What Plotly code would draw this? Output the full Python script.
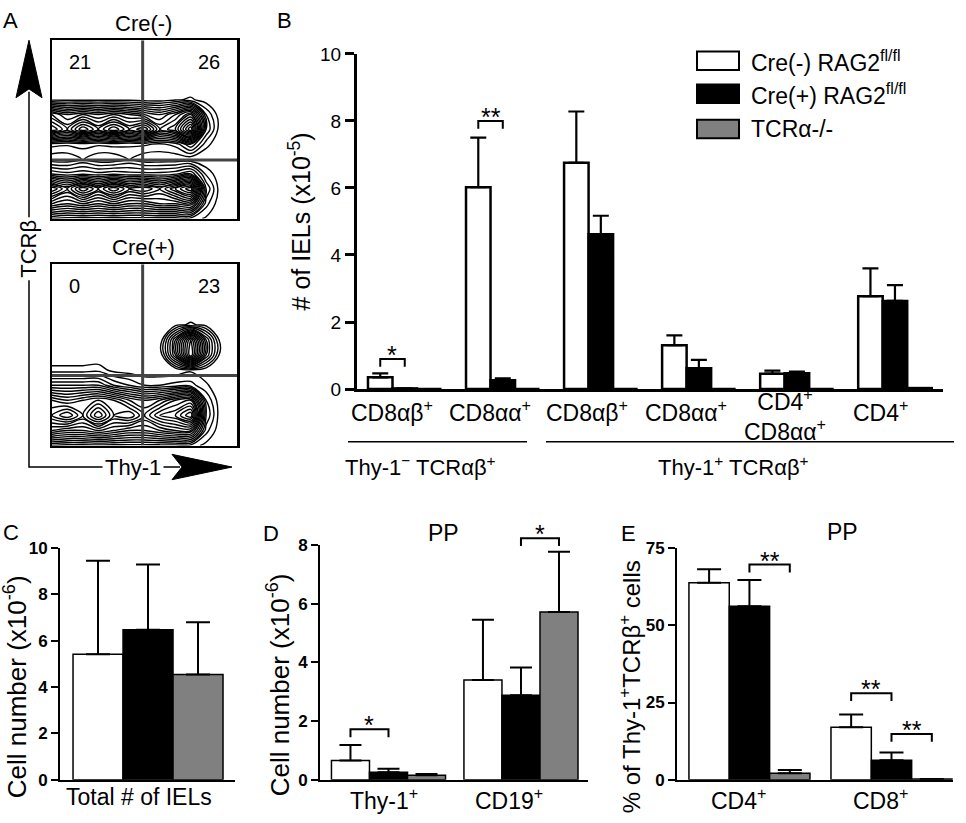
import plotly.graph_objects as go

W, H = 966, 823
FONT = "Liberation Sans, Arial, Helvetica, sans-serif"


def px(x):
    return x / W


def py(y):
    return 1 - y / H


# ---------------- DATA ----------------
# Panel A: approximate event density (rows bottom -> top)
A_grid = [0.0, 0.083, 0.167, 0.25, 0.333, 0.417, 0.5, 0.583, 0.667, 0.75, 0.833, 0.917, 1.0]
A_cre_neg_density = [
    [1.0, 0.8, 0.8, 0.8, 0.8, 0.8, 0.8, 0.8, 0.8, 0.8, 0.4, 0, 0],
    [4.5, 4, 4.5, 4, 4.5, 4, 4, 4.5, 4.5, 5, 1.2, 0, 0],
    [7.5, 6, 8, 6.5, 8, 6.5, 7, 6, 7.5, 9, 2, 0, 0],
    [2.5, 2.2, 2.4, 2.2, 2.4, 2.2, 2.2, 2.2, 2.4, 3, 0.9, 0, 0],
    [0.1, 0.1, 0.55, 0.1, 0.1, 0.55, 0.1, 0.1, 0.1, 0.1, 0, 0, 0],
    [1.2, 1.1, 1.2, 1.1, 1.2, 1.1, 1.1, 0.9, 1.2, 2.5, 0.7, 0, 0],
    [7.5, 6, 8, 6.5, 8, 6.5, 7.5, 5, 6, 9, 2, 0, 0],
    [5.5, 4.5, 5, 4.5, 5, 4.5, 4, 3.5, 4.5, 6, 1.5, 0, 0],
    [0.3, 0.3, 0.3, 0.3, 0.3, 0.3, 0.2, 0.2, 0.4, 0.6, 0.2, 0, 0],
    [0, 0, 0, 0, 0, 0, 0, 0, 0, 0, 0, 0, 0],
    [0, 0, 0, 0, 0, 0, 0, 0, 0, 0, 0, 0, 0],
    [0, 0, 0, 0, 0, 0, 0, 0, 0, 0, 0, 0, 0],
    [0, 0, 0, 0, 0, 0, 0, 0, 0, 0, 0, 0, 0],
]
A_cre_pos_density = [
    [1.0, 0.8, 0.8, 0.8, 0.8, 0.8, 0.8, 0.8, 0.8, 0.8, 0.3, 0, 0],
    [5, 4.5, 4.5, 5, 4.5, 4, 4, 4.5, 5, 5, 1.2, 0, 0],
    [7, 8, 6.5, 8.5, 6.5, 7, 5.5, 7, 7.5, 9, 2, 0, 0],
    [6, 5.5, 6, 6.5, 6, 5, 4.5, 5, 6, 6.5, 1.5, 0, 0],
    [3, 3, 3, 3, 2, 1.5, 1, 1, 1.2, 1.2, 0.6, 0, 0],
    [0.7, 0.7, 0.7, 0.8, 0.3, 0.2, 0.1, 0.1, 0.1, 0.4, 0.1, 0, 0],
    [0, 0, 0, 0, 0, 0, 0, 0, 3.5, 8, 3, 0, 0],
    [0, 0, 0, 0, 0, 0, 0, 0, 3.5, 7.5, 3, 0, 0],
    [0, 0, 0, 0, 0, 0, 0, 0, 0.3, 0.6, 0.3, 0, 0],
    [0, 0, 0, 0, 0, 0, 0, 0, 0, 0, 0, 0, 0],
    [0, 0, 0, 0, 0, 0, 0, 0, 0, 0, 0, 0, 0],
    [0, 0, 0, 0, 0, 0, 0, 0, 0, 0, 0, 0, 0],
    [0, 0, 0, 0, 0, 0, 0, 0, 0, 0, 0, 0, 0],
]
A_cre_neg_quadrants = ["21", "26"]
A_cre_pos_quadrants = ["0", "23"]
A_titles = ["Cre(-)", "Cre(+)"]

series_names = ["Cre(-) RAG2<sup>fl/fl</sup>", "Cre(+) RAG2<sup>fl/fl</sup>", "TCRα-/-"]
series_colors = ["white", "black", "#808080"]

# Panel B (# of IELs x10^-5)
B_labels = ["CD8αβ<sup>+</sup>", "CD8αα<sup>+</sup>", "CD8αβ<sup>+</sup>", "CD8αα<sup>+</sup>",
            "CD4<sup>+</sup><br>CD8αα<sup>+</sup>", "CD4<sup>+</sup>"]
B_groups = ["Thy-1<sup>−</sup> TCRαβ<sup>+</sup>", "Thy-1<sup>+</sup> TCRαβ<sup>+</sup>"]
B_cre_neg = [0.35, 6.02, 6.75, 1.31, 0.46, 2.77]
B_cre_neg_err = [0.12, 1.48, 1.53, 0.29, 0.09, 0.83]
B_cre_pos = [0.02, 0.26, 4.62, 0.62, 0.47, 2.63]
B_cre_pos_err = [None, 0.06, 0.55, 0.25, 0.05, 0.47]
B_tcra = [0, 0, 0, 0, 0, 0.03]
B_tcra_err = [None, None, None, None, None, None]

# Panel C (cell number x10^-6)
C_labels = ["Total # of IELs"]
C_cre_neg = [5.42]
C_cre_neg_err = [4.03]
C_cre_pos = [6.47]
C_cre_pos_err = [2.82]
C_tcra = [4.54]
C_tcra_err = [2.26]

# Panel D (PP cell number x10^-6)
D_labels = ["Thy-1<sup>+</sup>", "CD19<sup>+</sup>"]
D_cre_neg = [0.66, 3.40]
D_cre_neg_err = [0.53, 2.05]
D_cre_pos = [0.26, 2.88]
D_cre_pos_err = [0.12, 0.95]
D_tcra = [0.16, 5.72]
D_tcra_err = [0.04, 2.05]

# Panel E (PP % of Thy-1+TCRb+ cells)
E_labels = ["CD4<sup>+</sup>", "CD8<sup>+</sup>"]
E_cre_neg = [63.7, 17.0]
E_cre_neg_err = [4.4, 4.1]
E_cre_pos = [56.1, 6.3]
E_cre_pos_err = [8.5, 2.5]
E_tcra = [2.1, 0.3]
E_tcra_err = [1.1, None]

# significance brackets: (category, bar_a, bar_b, level, text)
B_brackets = [(0, 0, 1, 0.9, "*"), (1, 0, 1, 8.0, "**")]
D_brackets = [(0, 0, 1, 1.72, "*"), (1, 1, 2, 8.23, "*")]
E_brackets = [(0, 1, 2, 69.6, "**"), (1, 0, 1, 28.0, "**"), (1, 1, 2, 14.8, "**")]

# ---------------- LAYOUT CONFIG ----------------
panels = {
    "B": dict(n="3", xdom=(357, 943), ydom=(389, 45), xr=(-0.487, 5.49), yr=(0, 10), bw=0.25,
              ticks=[0, 2, 4, 6, 8, 10], bold=False, tsize=19, lw=3, tlen=9, cap=8, ew=2.2, bl=2.5,
              series=[(B_cre_neg, B_cre_neg_err), (B_cre_pos, B_cre_pos_err), (B_tcra, B_tcra_err)],
              brackets=B_brackets),
    "C": dict(n="4", xdom=(60, 235), ydom=(790, 552), xr=(-0.503, 0.497), yr=(0, 10), bw=0.2857,
              ticks=[0, 2, 4, 6, 8, 10], bold=True, tsize=17, lw=2, tlen=7, cap=12, ew=2, bl=1.5,
              series=[(C_cre_neg, C_cre_neg_err), (C_cre_pos, C_cre_pos_err), (C_tcra, C_tcra_err)],
              brackets=[]),
    "D": dict(n="5", xdom=(320, 588), ydom=(790, 549), xr=(-0.517, 1.506), yr=(0, 8), bw=0.287,
              ticks=[0, 2, 4, 6, 8], bold=True, tsize=17, lw=2, tlen=7, cap=11, ew=2, bl=1.5,
              series=[(D_cre_neg, D_cre_neg_err), (D_cre_pos, D_cre_pos_err), (D_tcra, D_tcra_err)],
              brackets=D_brackets),
    "E": dict(n="6", xdom=(677, 953), ydom=(790, 552), xr=(-0.51, 1.433), yr=(0, 75), bw=0.284,
              ticks=[0, 25, 50, 75], bold=True, tsize=17, lw=2, tlen=7, cap=12, ew=2, bl=1.5,
              series=[(E_cre_neg, E_cre_neg_err), (E_cre_pos, E_cre_pos_err), (E_tcra, E_tcra_err)],
              brackets=E_brackets),
}

fig = go.Figure()
layout = dict(width=W, height=H, margin=dict(l=0, r=0, t=0, b=0),
              paper_bgcolor="white", plot_bgcolor="rgba(0,0,0,0)", showlegend=False,
              hovermode=False, font=dict(family=FONT, color="black"))
annotations = []
shapes = []


def ann(text, x, y, size, **kw):
    d = dict(text=text, x=px(x), y=py(y), xref="paper", yref="paper", showarrow=False,
             font=dict(family=FONT, size=size, color="black"), xanchor="center", yanchor="middle")
    d.update(kw)
    return d


# ---------------- PANEL A ----------------
A_boxes = [((52, 237), (214, 31), A_cre_neg_density, A_cre_neg_quadrants, (154 - 31) / 183.0),
           ((52, 237), (447, 261), A_cre_pos_density, A_cre_pos_quadrants, (375 - 261) / 186.0)]
for i, (xd, yd, dens, quad, hfrac) in enumerate(A_boxes):
    ax = "" if i == 0 else "2"
    fig.add_trace(go.Contour(
        x=A_grid, y=A_grid, z=dens, xaxis="x" + ax, yaxis="y" + ax,
        autocontour=False, contours=dict(coloring="lines", start=0.5, end=9, size=0.5),
        line=dict(width=1.4, smoothing=1.0), colorscale=[[0, "black"], [1, "black"]],
        showscale=False, hoverinfo="skip"))
    axis_common = dict(range=[0, 1], showline=True, mirror=True, linewidth=2.5, linecolor="black",
                       showgrid=False, zeroline=False, ticks="", showticklabels=False, fixedrange=True)
    layout["xaxis" + ax] = dict(domain=[px(xd[0]), px(xd[1])], anchor="y" + ax, **axis_common)
    layout["yaxis" + ax] = dict(domain=[py(yd[0]), py(yd[1])], anchor="x" + ax, **axis_common)
    xref, yref = "x" + ax, "y" + ax
    shapes.append(dict(type="line", xref=xref, yref=yref, x0=0.49, x1=0.49, y0=0, y1=1,
                       line=dict(color="#444444", width=3)))
    hy = 1 - hfrac
    shapes.append(dict(type="line", xref=xref, yref=yref, x0=0, x1=1, y0=hy, y1=hy,
                       line=dict(color="#444444", width=3)))
    annotations.append(dict(text=quad[0], x=0.08, y=0.88, xref=xref, yref=yref, showarrow=False,
                            xanchor="left", yanchor="middle",
                            font=dict(family=FONT, size=20, color="black")))
    annotations.append(dict(text=quad[1], x=0.92, y=0.88, xref=xref, yref=yref, showarrow=False,
                            xanchor="right", yanchor="middle",
                            font=dict(family=FONT, size=20, color="black")))
    annotations.append(ann(A_titles[i], 143, yd[1] - 17, 22))


# axis arrows of panel A
def ppath(points, close=False):
    s = "M " + " L ".join("%.5f,%.5f" % (px(a), py(b)) for a, b in points)
    return s + (" Z" if close else "")


shapes.append(dict(type="path", xref="paper", yref="paper",
                   path=ppath([(29, 84), (29, 469), (180, 469)]), line=dict(color="black", width=1.5)))
shapes.append(dict(type="path", xref="paper", yref="paper",
                   path=ppath([(29, 31), (42, 90), (29, 81), (16, 90)], True),
                   fillcolor="black", line=dict(color="black", width=1)))
shapes.append(dict(type="path", xref="paper", yref="paper",
                   path=ppath([(232, 469), (172, 456), (182, 469), (172, 482)], True),
                   fillcolor="black", line=dict(color="black", width=1)))
annotations.append(ann("TCRβ", 29, 245, 22, textangle=-90, bgcolor="white", borderpad=2))
annotations.append(ann("Thy-1", 133, 469, 22, bgcolor="white", borderpad=2))

# ---------------- BAR PANELS ----------------
for key, p in panels.items():
    n = p["n"]
    xr0, xr1 = p["xr"]
    yr0, yr1 = p["yr"]
    ybot, ytop = py(p["ydom"][0]), py(p["ydom"][1])
    bw = p["bw"]
    for k, (vals, errs) in enumerate(p["series"]):
        idx = list(range(len(vals)))
        fig.add_trace(go.Bar(
            x=idx, y=vals, width=bw, offset=(k - 1.5) * bw, xaxis="x" + n, yaxis="y" + n,
            name=series_names[k],
            marker=dict(color=series_colors[k], line=dict(color="black", width=p["bl"])),
            error_y=dict(type="data", symmetric=False, array=errs, arrayminus=[0] * len(vals),
                         color="black", thickness=p["ew"], width=p["cap"]),
            hoverinfo="skip"))
    tf = dict(family=FONT, size=p["tsize"], color="black")
    if p["bold"]:
        tf["weight"] = "bold"
    layout["xaxis" + n] = dict(domain=[px(p["xdom"][0]), px(p["xdom"][1])], anchor="y" + n,
                               range=[xr0, xr1], showline=True, linewidth=p["lw"], linecolor="black",
                               ticks="", showticklabels=False, showgrid=False, zeroline=False,
                               fixedrange=True)
    layout["yaxis" + n] = dict(domain=[ybot, ytop], anchor="x" + n, range=[yr0, yr1],
                               showline=True, linewidth=p["lw"], linecolor="black",
                               ticks="outside", ticklen=p["tlen"], tickwidth=p["lw"], tickcolor="black",
                               tickvals=p["ticks"], tickfont=tf, showgrid=False, zeroline=False,
                               fixedrange=True)
    # significance brackets
    drop = 8.0 / H
    for (cat, a, b, lvl, txt) in p["brackets"]:
        xa = cat + (a - 1) * bw
        xb = cat + (b - 1) * bw
        yl = ybot + (lvl - yr0) / (yr1 - yr0) * (ytop - ybot)
        path = "M %.4f,%.5f L %.4f,%.5f L %.4f,%.5f L %.4f,%.5f" % (
            xa, yl - drop, xa, yl, xb, yl, xb, yl - drop)
        shapes.append(dict(type="path", xref="x" + n, yref="paper", path=path,
                           line=dict(color="black", width=2)))
        annotations.append(dict(text=txt, x=(xa + xb) / 2, y=yl + 4.0 / H, xref="x" + n, yref="paper",
                                showarrow=False, xanchor="center", yanchor="middle",
                                font=dict(family=FONT, size=25, color="black")))

# Panel B category labels and grouping lines
B_label_x = [392, 490, 587, 686, 785, 880]
for lab, xx in zip(B_labels, B_label_x):
    yy = 416 if "<br>" in lab else 411
    annotations.append(ann(lab, xx, yy, 23))
shapes.append(dict(type="line", xref="paper", yref="paper", x0=px(348), x1=px(527), y0=py(443), y1=py(443),
                   line=dict(color="black", width=1.5)))
shapes.append(dict(type="line", xref="paper", yref="paper", x0=px(546), x1=px(954), y0=py(443), y1=py(443),
                   line=dict(color="black", width=1.5)))
annotations.append(ann(B_groups[0], 420, 468, 22))
annotations.append(ann(B_groups[1], 733, 468, 22))

# Panel B legend
leg_rows = [52, 86, 122]
for k, yy in enumerate(leg_rows):
    shapes.append(dict(type="rect", xref="paper", yref="paper", x0=px(697), x1=px(739),
                       y0=py(yy + 9.5), y1=py(yy - 9.5), fillcolor=series_colors[k],
                       line=dict(color="black", width=2)))
    annotations.append(ann(series_names[k], 749, yy, 23, xanchor="left"))

# C/D/E category labels
annotations.append(ann(C_labels[0], 139, 808, 23))
for lab, xx in zip(D_labels, [384, 509]):
    annotations.append(ann(lab, xx, 810, 23))
for lab, xx in zip(E_labels, [738, 880]):
    annotations.append(ann(lab, xx, 810, 23))
annotations.append(ann("PP", 443, 537, 23))
annotations.append(ann("PP", 842, 536, 23))

# Axis titles
annotations.append(ann("# of IELs (x10<sup>-5</sup>)", 300, 217, 25, textangle=-90))
annotations.append(ann("Cell number (x10<sup>-6</sup>)", 15, 695, 26, textangle=-90))
annotations.append(ann("Cell number (x10<sup>-6</sup>)", 278, 693, 26, textangle=-90))
annotations.append(ann("% of Thy-1<sup>+</sup>TCRβ<sup>+</sup> cells", 630, 695, 24, textangle=-90))

# Panel letters
for letter, xx, yy in [("A", 10, 11), ("B", 284, 11), ("C", 11, 536), ("D", 271, 537), ("E", 628, 537)]:
    annotations.append(ann(letter, xx, yy, 22))

layout["annotations"] = annotations
layout["shapes"] = shapes
fig.update_layout(**layout)
fig.write_html("out.html", config={"displayModeBar": False, "staticPlot": True},
               post_script="document.body.style.margin='0px';")
